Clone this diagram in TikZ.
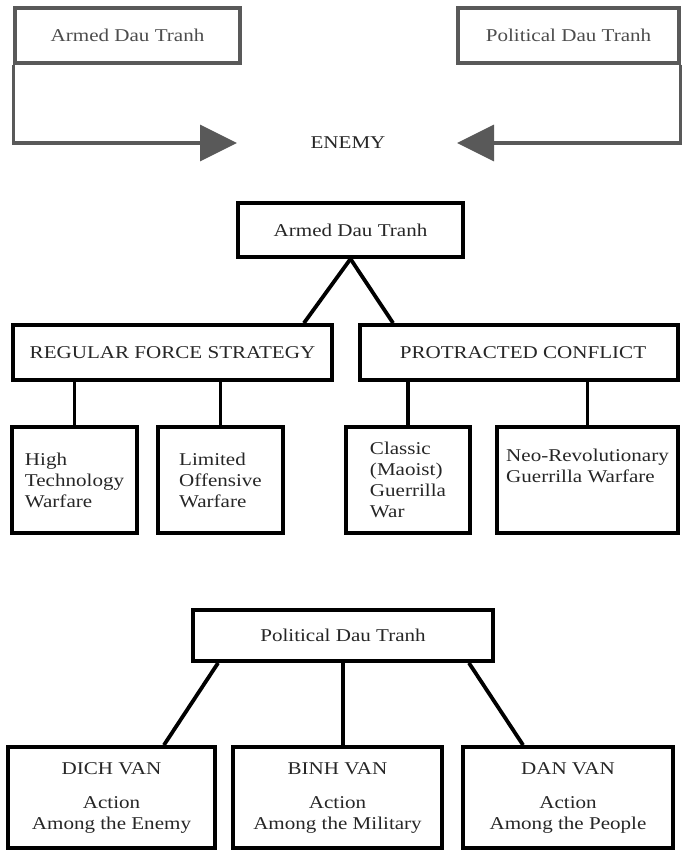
\documentclass[tikz,border=0pt]{standalone}
\usepackage{fontspec}
\setmainfont{Liberation Serif}[FakeStretch=1.17]
\usepackage{tikz}
\usetikzlibrary{arrows.meta}

\begin{document}
\begin{tikzpicture}[x=1pt,y=-1pt,
	box/.style={draw,line width=3.8pt,inner sep=0pt,align=left,
		text=black!85,font=\fontsize{18}{21}\selectfont},
	topbox/.style={box,line width=3.4pt,draw=black!65,text=black!70},
	vanbox/.style={box,align=center,minimum width=208pt,minimum height=101pt},
	leafbox/.style={box,minimum height=106pt},
	link/.style={line width=3.8pt},
	toparrow/.style={line width=3.4pt,black!65,-{Triangle[length=37pt,width=36pt]}}]
\useasboundingbox (0,0) rectangle (681,852);
% top: both dau tranh aimed at the enemy
\node[topbox,minimum width=225pt,minimum height=55pt] (armtop) at (127.5,35.5) {Armed Dau Tranh};
\node[topbox,minimum width=221pt,minimum height=55pt] (poltop) at (568.5,35.5) {Political Dau Tranh};
\node[text=black!85,font=\fontsize{18}{21}\selectfont] (enemy) at (348,143) {ENEMY};
\coordinate (ltip) at (237,143);
\coordinate (rtip) at (457,143);
\draw[toparrow] (armtop.south west) |- (ltip);
\draw[toparrow] (poltop.south east) |- (rtip);
% armed dau tranh
\node[box,minimum width=225pt,minimum height=54pt] (armed) at (350.5,230) {Armed Dau Tranh};
\node[box,minimum width=319pt,minimum height=55pt] (regular) at (172.5,352.5) {REGULAR FORCE STRATEGY};
\node[box,minimum width=318pt,minimum height=55pt] (protracted) at (519,352.5) {\hspace{8pt}PROTRACTED CONFLICT};
\draw[link] (armed.south) -- ([xshift=-30pt]regular.north east);
\draw[link] (armed.south) -- ([xshift=35pt]protracted.north west);
\node[leafbox,minimum width=125pt] (hightech) at (74.5,480) {High\\Technology\\Warfare};
\node[leafbox,minimum width=125pt] (limited) at (220.5,480) {Limited\\Offensive\\Warfare};
\node[leafbox,minimum width=124pt] (classic) at (408,480) {Classic\\(Maoist)\\Guerrilla\\War};
\node[leafbox,minimum width=181pt] (neorev) at (587.5,480) {Neo-Revolutionary\\Guerrilla Warfare\\[8pt]};
\draw[link] (hightech.north) -- (hightech.north |- regular.south);
\draw[link] (limited.north) -- (limited.north |- regular.south);
\draw[link] (classic.north) -- (classic.north |- protracted.south);
\draw[link] (neorev.north) -- (neorev.north |- protracted.south);
% political dau tranh
\node[box,minimum width=300pt,minimum height=51pt] (political) at (343,635.5) {Political Dau Tranh};
\node[vanbox,minimum width=207pt] (dichvan) at (111.5,797.5) {DICH VAN\\[13pt]Action\\Among the Enemy};
\node[vanbox,minimum width=209pt] (binhvan) at (337.5,797.5) {BINH VAN\\[13pt]Action\\Among the Military};
\node[vanbox,minimum width=210pt] (danvan) at (568,797.5) {DAN VAN\\[13pt]Action\\Among the People};
\draw[link] ([xshift=27pt]political.south west) -- ([xshift=-53pt]dichvan.north east);
\draw[link] (political.south) -- (political.south |- binhvan.north);
\draw[link] ([xshift=-26pt]political.south east) -- ([xshift=62pt]danvan.north west);
\end{tikzpicture}
\end{document}
